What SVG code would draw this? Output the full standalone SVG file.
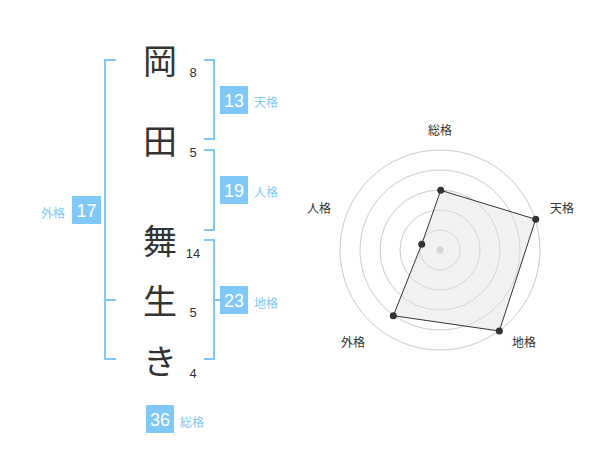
<svg xmlns="http://www.w3.org/2000/svg" width="600" height="470" viewBox="0 0 600 470">
<style>
.ch{font-family:"Noto Sans CJK JP","Noto Sans CJK SC",sans-serif;font-size:34px;fill:#333;text-anchor:middle}
.st{font-family:"Liberation Sans",Arial,sans-serif;font-size:13px;fill:#333;text-anchor:middle}
.br{fill:none;stroke:#80c8f8;stroke-width:2}
.bx{fill:#80c8f8}
.bn{font-family:"Liberation Sans",Arial,sans-serif;font-size:18px;fill:#fff;text-anchor:middle}
.bl{font-family:"Noto Sans CJK JP",sans-serif;font-size:12px;fill:#80c8f8}
.rl{font-family:"Noto Sans CJK JP",sans-serif;font-size:12px;fill:#333;text-anchor:middle}
.ring{fill:none;stroke:#ccc;stroke-width:1}
</style>
<rect width="600" height="470" fill="#fff"/>
<g id="chars">
<text class="ch" x="160" y="74">岡</text>
<text class="ch" x="160" y="154">田</text>
<text class="ch" x="160" y="254">舞</text>
<text class="ch" x="160" y="314">生</text>
<text class="ch" x="160" y="374">き</text>
</g>
<g id="strokes">
<text class="st" x="193" y="77">8</text>
<text class="st" x="193" y="157">5</text>
<text class="st" x="193" y="258">14</text>
<text class="st" x="193" y="317">5</text>
<text class="st" x="193" y="378">4</text>
</g>
<g id="connectors">
<path class="br" d="M116,60 H105 V359 H116 M105,300 H116"/>
<path class="br" d="M204,60 H214 V139 H204"/>
<path class="br" d="M204,150 H214 V230 H204"/>
<path class="br" d="M204,240 H214 V359 H204 M214,300 H222"/>
</g>
<g id="tenkaku">
<rect class="bx" x="220" y="86" width="28" height="28"/>
<text class="bn" x="234" y="107">13</text>
<text class="bl" x="254" y="107">天格</text>
</g>
<g id="jinkaku">
<rect class="bx" x="220" y="176" width="28" height="28"/>
<text class="bn" x="234" y="197">19</text>
<text class="bl" x="254" y="197">人格</text>
</g>
<g id="gaikaku">
<rect class="bx" x="72" y="196" width="29" height="28"/>
<text class="bn" x="86.5" y="217">17</text>
<text class="bl" x="41" y="218">外格</text>
</g>
<g id="chikaku">
<rect class="bx" x="220" y="286" width="28" height="28"/>
<text class="bn" x="234" y="307">23</text>
<text class="bl" x="254" y="308">地格</text>
</g>
<g id="soukaku">
<rect class="bx" x="146" y="405" width="28" height="28"/>
<text class="bn" x="160" y="426">36</text>
<text class="bl" x="180" y="427">総格</text>
</g>
<g id="radar">
<circle class="ring" cx="440" cy="250" r="20"/>
<circle class="ring" cx="440" cy="250" r="40"/>
<circle class="ring" cx="440" cy="250" r="60"/>
<circle class="ring" cx="440" cy="250" r="80"/>
<circle class="ring" cx="440" cy="250" r="100"/>
<circle cx="440" cy="250" r="3.5" fill="#ccc"/>
<polygon points="440.7,190.3 535.7,219.3 499.3,331 393.3,315.7 421.7,244.3" fill="#e0e0e0" fill-opacity="0.45" stroke="#333" stroke-width="1"/>
<g fill="#333">
<circle cx="440.7" cy="190.3" r="3.5"/>
<circle cx="535.7" cy="219.3" r="3.5"/>
<circle cx="499.3" cy="331" r="3.5"/>
<circle cx="393.3" cy="315.7" r="3.5"/>
<circle cx="421.7" cy="244.3" r="3.5"/>
</g>
<text class="rl" x="440" y="135">総格</text>
<text class="rl" x="562" y="213">天格</text>
<text class="rl" x="524" y="347">地格</text>
<text class="rl" x="353" y="347">外格</text>
<text class="rl" x="319" y="213">人格</text>
</g>
</svg>
